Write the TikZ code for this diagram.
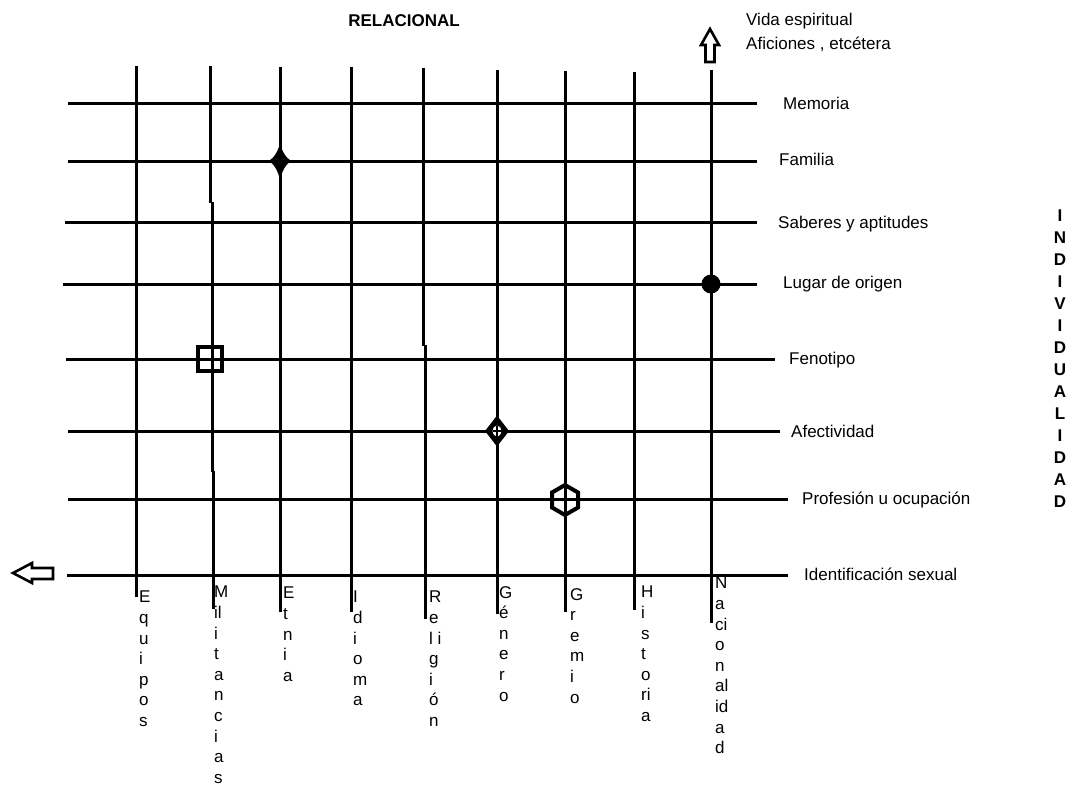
\documentclass[tikz,border=0pt]{standalone}
\usepackage{fontspec}
\setmainfont{Liberation Sans}
\begin{document}
\begin{tikzpicture}[x=1pt,y=-1pt,
  gridline/.style={line width=3pt},
  lbl/.style={inner sep=0pt,anchor=base west,font=\fontsize{17}{20.6}\selectfont},
  vlbl/.style={inner sep=0pt,anchor=north west,align=left,font=\fontsize{17}{20.6}\selectfont},
  hollowarrow/.style={draw,line width=2.6pt,fill=white,line join=miter},
  marker/.style={line width=4pt}]
\useasboundingbox (0,0) rectangle (1073,785);
% horizontal lines
\draw[gridline] (68,103) -- (757,103);
\draw[gridline] (68,161) -- (757,161);
\draw[gridline] (65,222) -- (757,222);
\draw[gridline] (63,284) -- (757,284);
\draw[gridline] (66,359) -- (775,359);
\draw[gridline] (68,431) -- (780,431);
\draw[gridline] (68,499) -- (788,499);
\draw[gridline] (67,575) -- (788,575);
% vertical lines
\draw[gridline] (136,66) -- (136,597);
\draw[gridline] (210,66) -- (210,203);
\draw[gridline] (212,202) -- (212,472);
\draw[gridline] (213,471) -- (213,609);
\draw[gridline] (280,67) -- (280,612);
\draw[gridline] (351,67) -- (351,612);
\draw[gridline] (423,68) -- (423,346);
\draw[gridline] (425,345) -- (425,619);
\draw[gridline] (497,70) -- (497,614);
\draw[gridline] (565,71) -- (565,612);
\draw[gridline] (634,72) -- (634,610);
\draw[gridline] (711,70) -- (711,623);
% markers
\filldraw[line width=1.5pt,line join=round] (280,146) .. controls (282.5,154) and (286,158.5) .. (290,161)
  .. controls (286,163.5) and (282.5,168) .. (280,177)
  .. controls (277.5,168) and (274,163.5) .. (270,161)
  .. controls (274,158.5) and (277.5,154) .. (280,146) -- cycle;
\draw[marker] (198,347) rectangle (222,371);
\fill (497,415.5) -- (509,431) -- (497,446.5) -- (485,431) -- cycle;
\fill[white] (497,431) ellipse (4.5 and 5.5);
\draw[line width=2pt] (497,425.5) -- (497,436.5);
\draw[line width=2pt] (492.5,431) -- (501.5,431);
\draw[marker] (565,485) -- (578,492.5) -- (578,507.5) -- (565,515) -- (552,507.5) -- (552,492.5) -- cycle;
\fill (711,284) circle (9.5);
% hollow arrows
\draw[hollowarrow] (710,29) -- (719,45) -- (714.5,45) -- (714.5,62) -- (705.5,62) -- (705.5,45) -- (701,45) -- cycle;
\draw[hollowarrow] (13,573) -- (32,563) -- (32,568) -- (53,568) -- (53,579) -- (32,579) -- (32,583) -- cycle;
% titles
\node[inner sep=0pt,anchor=base,font=\fontsize{17}{20}\selectfont\bfseries] (rel) at (404,26) {RELACIONAL};
\node[inner sep=0pt,anchor=north,align=center,font=\fontsize{17}{22}\selectfont\bfseries] (ind) at (1060,210)
  {I\\N\\D\\I\\V\\I\\D\\U\\A\\L\\I\\D\\A\\D};
\node[lbl] (vida) at (746,25) {Vida espiritual};
\node[lbl] (afic) at (746,49) {Aficiones , etcétera};
% right labels
\node[lbl] (mem) at (783,109) {Memoria};
\node[lbl] (fam) at (779,165) {Familia};
\node[lbl] (sab) at (778,228) {Saberes y aptitudes};
\node[lbl] (lug) at (783,288) {Lugar de origen};
\node[lbl] (fen) at (789,364) {Fenotipo};
\node[lbl] (afe) at (791,437) {Afectividad};
\node[lbl] (pro) at (802,504) {Profesión u ocupación};
\node[lbl] (ide) at (804,580) {Identificación sexual};
% bottom vertical labels
\node[vlbl] (equ) at (139,591) {E\\q\\u\\i\\p\\o\\s};
\node[vlbl] (mil) at (214,586) {M\\il\\i\\t\\a\\n\\c\\i\\a\\s};
\node[vlbl] (etn) at (283,587) {E\\t\\n\\i\\a};
\node[vlbl] (idi) at (353,591) {I\\d\\i\\o\\m\\a};
\node[vlbl] (reg) at (429,591) {R\\e\\l i\\g\\i\\ó\\n};
\node[vlbl] (gen) at (499,586) {G\\é\\n\\e\\r\\o};
\node[vlbl] (gre) at (570,588) {G\\r\\e\\m\\i\\o};
\node[vlbl] (his) at (641,586) {H\\i\\s\\t\\o\\ri\\a};
\node[vlbl] (nac) at (715,577) {N\\a\\ci\\o\\n\\al\\id\\a\\d};
\end{tikzpicture}
\end{document}
